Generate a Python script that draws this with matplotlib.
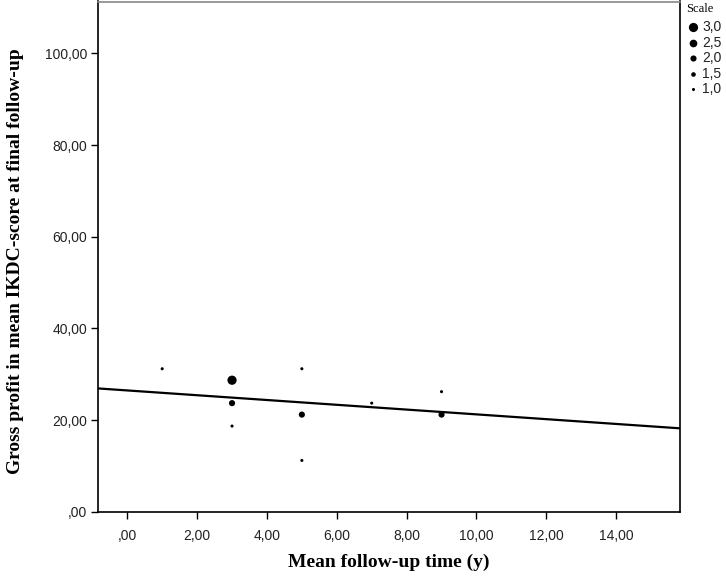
import matplotlib
matplotlib.use("Agg")
import matplotlib.pyplot as plt
import numpy as np

# Data
follow_up = [1, 3, 3, 3, 5, 5, 5, 7, 9, 9]
ikdc_gain = [31.2, 28.7, 23.7, 18.7, 31.2, 21.2, 11.2, 23.7, 26.2, 21.2]
scale = [1.0, 3.0, 2.0, 1.0, 1.0, 2.0, 1.0, 1.0, 1.0, 2.0]
legend_scales = [3.0, 2.5, 2.0, 1.5, 1.0]
legend_labels = ["3,0", "2,5", "2,0", "1,5", "1,0"]
fit_intercept = 26.47
fit_slope = -0.522
x_ticks = [0, 2, 4, 6, 8, 10, 12, 14]
x_tick_labels = [",00", "2,00", "4,00", "6,00", "8,00", "10,00", "12,00", "14,00"]
y_ticks = [0, 20, 40, 60, 80, 100]
y_tick_labels = [",00", "20,00", "40,00", "60,00", "80,00", "100,00"]

def size(s):
    return 4.9 * s ** 2

W, H = 726, 576
fig = plt.figure(figsize=(W / 100, H / 100), dpi=100)
ax = fig.add_axes([98.3 / W, 1 - 511.8 / H, (680 - 98.3) / W, (511.8 - 1.5) / H])

xlim = (-0.83, 15.83)
ax.set_xlim(*xlim)
ax.set_ylim(0, 111.3)

xs = np.array(xlim)
ax.plot(xs, fit_intercept + fit_slope * xs, color="black", lw=1.6, zorder=2)

ax.scatter(follow_up, ikdc_gain, s=[size(v) for v in scale], color="black",
           edgecolors="none", zorder=3)

ax.set_xticks(x_ticks)
ax.set_xticklabels(x_tick_labels, fontfamily="Liberation Sans", fontsize=10, color="#222222")
ax.set_yticks(y_ticks)
ax.set_yticklabels(y_tick_labels, fontfamily="Liberation Sans", fontsize=10, color="#222222")
ax.tick_params(axis="both", direction="out", length=5.2, width=1, color="black")
ax.tick_params(axis="x", pad=7)
ax.tick_params(axis="y", pad=3)

for side in ["left", "bottom", "right"]:
    ax.spines[side].set_linewidth(1.2)
    ax.spines[side].set_color("black")
ax.spines["top"].set_linewidth(1.2)
ax.spines["top"].set_color("#888888")

fig.text(389 / W, 1 - 562 / H, "Mean follow-up time (y)", fontfamily="Liberation Serif",
         fontweight="bold", fontsize=14, ha="center", va="center")
fig.text(16 / W, 1 - 261 / H, "Gross profit in mean IKDC-score at final follow-up",
         fontfamily="Liberation Serif", fontweight="bold", fontsize=14,
         rotation=90, ha="center", va="center")

# Legend
fig.text(686 / W, 1 - 9 / H, "Scale", fontfamily="Liberation Serif",
         fontsize=9, va="center", ha="left")
ly = [27, 43, 58, 74, 89]
for s, lab, y in zip(legend_scales, legend_labels, ly):
    fig.add_artist(plt.Line2D([693 / W], [1 - y / H], marker="o",
                              markersize=np.sqrt(size(s)), color="black",
                              markeredgewidth=0, linestyle="none",
                              transform=fig.transFigure))
    fig.text(702 / W, 1 - y / H, lab, fontfamily="Liberation Sans",
             fontsize=10, va="center", ha="left", color="#222222")

fig.savefig("out.png", dpi=100)
